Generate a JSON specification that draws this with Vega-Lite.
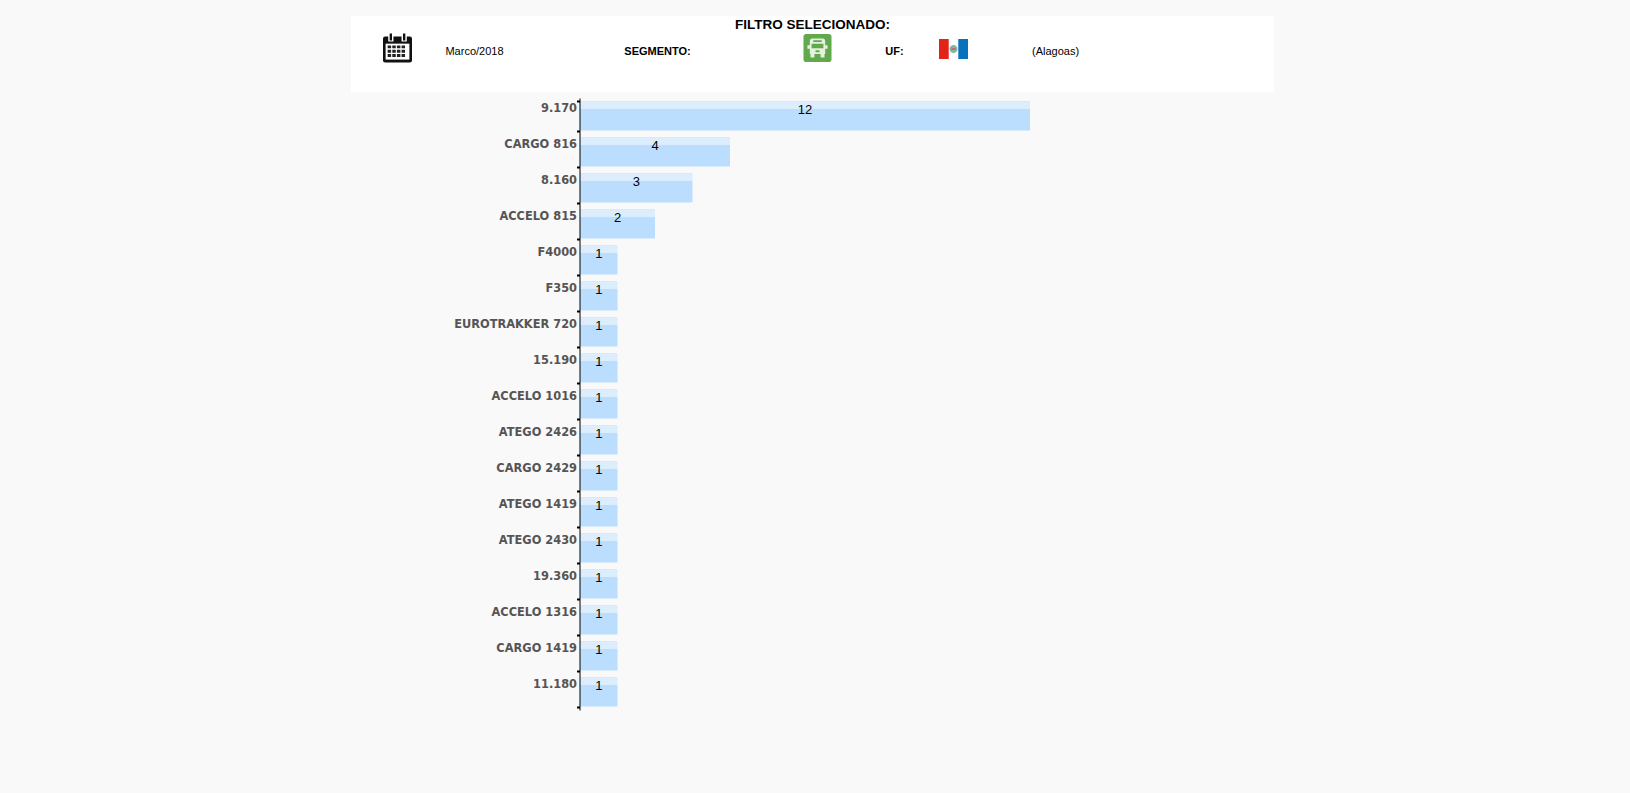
{"$schema":"https://vega.github.io/schema/vega-lite/v6.json","background":"#f9f9f9","padding":{"left":351,"right":356,"top":16,"bottom":88},"spacing":0,"config":{"view":{"stroke":null}},"datasets":{"modelos":[{"modelo":"9.170","qtd":12},{"modelo":"CARGO 816","qtd":4},{"modelo":"8.160","qtd":3},{"modelo":"ACCELO 815","qtd":2},{"modelo":"F4000","qtd":1},{"modelo":"F350","qtd":1},{"modelo":"EUROTRAKKER 720","qtd":1},{"modelo":"15.190","qtd":1},{"modelo":"ACCELO 1016","qtd":1},{"modelo":"ATEGO 2426","qtd":1},{"modelo":"CARGO 2429","qtd":1},{"modelo":"ATEGO 1419","qtd":1},{"modelo":"ATEGO 2430","qtd":1},{"modelo":"19.360","qtd":1},{"modelo":"ACCELO 1316","qtd":1},{"modelo":"CARGO 1419","qtd":1},{"modelo":"11.180","qtd":1}]},"vconcat":[{"width":923,"height":76,"view":{"fill":"#ffffff","stroke":null},"encoding":{"x":{"datum":0,"type":"quantitative","scale":{"domain":[0,923],"nice":false,"zero":false},"axis":null},"y":{"datum":36,"type":"quantitative","scale":{"domain":[76,0],"nice":false,"zero":false},"axis":null}},"layer":[{"data":{"values":[{"t":"FILTRO SELECIONADO:"}]},"mark":{"type":"text","font":"Liberation Sans","fontWeight":"bold","fontSize":13.5,"color":"#000000"},"encoding":{"text":{"field":"t"},"x":{"datum":461.5,"type":"quantitative"},"y":{"datum":9,"type":"quantitative"}}},{"data":{"values":[{"t":"Marco/2018"}]},"mark":{"type":"text","font":"Liberation Sans","fontSize":11,"color":"#000000"},"encoding":{"text":{"field":"t"},"x":{"datum":123.5,"type":"quantitative"}}},{"data":{"values":[{"t":"SEGMENTO:"}]},"mark":{"type":"text","font":"Liberation Sans","fontWeight":"bold","fontSize":11,"color":"#000000"},"encoding":{"text":{"field":"t"},"x":{"datum":306.5,"type":"quantitative"}}},{"data":{"values":[{"t":"UF:"}]},"mark":{"type":"text","font":"Liberation Sans","fontWeight":"bold","fontSize":11,"color":"#000000"},"encoding":{"text":{"field":"t"},"x":{"datum":543.5,"type":"quantitative"}}},{"data":{"values":[{"t":"(Alagoas)"}]},"mark":{"type":"text","font":"Liberation Sans","fontSize":11,"color":"#000000"},"encoding":{"text":{"field":"t"},"x":{"datum":704.5,"type":"quantitative"}}},{"data":{"values":[{"p":"cal_body"},{"p":"cal_page"},{"p":"cal_ringbg"},{"p":"cal_ring"},{"p":"cal_cells"}]},"mark":{"type":"point","filled":true,"opacity":1,"size":841},"encoding":{"x":{"datum":46.5,"type":"quantitative"},"y":{"datum":32,"type":"quantitative"},"shape":{"field":"p","type":"nominal","legend":null,"scale":{"domain":["cal_body","cal_page","cal_ringbg","cal_ring","cal_cells","bus_bg","bus_body","bus_win","flag_r","flag_b","flag_e","flag_d"],"range":["M-0.85,-0.8H0.85Q1,-0.8 1,-0.65V0.85Q1,1 0.85,1H-0.85Q-1,1 -1,0.85V-0.65Q-1,-0.8 -0.85,-0.8Z","M-0.82,-0.3H0.82V0.8H-0.82Z","M-0.64,-1H-0.28V-0.45H-0.64ZM0.28,-1H0.64V-0.45H0.28Z","M-0.54,-1H-0.38V-0.52H-0.54ZM0.38,-1H0.54V-0.52H0.38Z","M-0.68,-0.18H-0.44V0.02H-0.68ZM-0.36,-0.18H-0.12V0.02H-0.36ZM-0.04,-0.18H0.2V0.02H-0.04ZM0.28,-0.18H0.52V0.02H0.28ZM-0.68,0.12H-0.44V0.32H-0.68ZM-0.36,0.12H-0.12V0.32H-0.36ZM-0.04,0.12H0.2V0.32H-0.04ZM0.28,0.12H0.52V0.32H0.28ZM-0.68,0.42H-0.44V0.62H-0.68ZM-0.36,0.42H-0.12V0.62H-0.36ZM-0.04,0.42H0.2V0.62H-0.04ZM0.28,0.42H0.52V0.62H0.28Z","M-0.8,-1H0.8Q1,-1 1,-0.8V0.8Q1,1 0.8,1H-0.8Q-1,1 -1,0.8V-0.8Q-1,-1 -0.8,-1Z","M-0.4,-0.68H0.4Q0.55,-0.68 0.55,-0.5V-0.2H0.72V0.05H0.55V0.42H0.5V0.68H0.22V0.42H-0.22V0.68H-0.5V0.42H-0.55V0.05H-0.72V-0.2H-0.55V-0.5Q-0.55,-0.68 -0.4,-0.68Z","M-0.3,-0.55H0.3V-0.42H-0.3ZM-0.42,-0.3H0.42V0.02H-0.42ZM-0.14,0.16H0.14V0.3H-0.14Z","M-1,-0.69H-0.33V0.69H-1Z","M0.33,-0.69H1V0.69H0.33Z","M0,-0.28A0.28,0.28 0 1 1 0,0.28A0.28,0.28 0 1 1 0,-0.28Z","M-0.14,-0.07H0.14V0.07H-0.14Z"]}},"color":{"field":"p","type":"nominal","legend":null,"scale":{"domain":["cal_body","cal_page","cal_ringbg","cal_ring","cal_cells","bus_bg","bus_body","bus_win","flag_r","flag_b","flag_e","flag_d"],"range":["#111111","#ffffff","#ffffff","#111111","#222222","#62a84c","#e4f1de","#62a84c","#e2231a","#0a72bd","#7fb8a0","#c46a7a"]}}}},{"data":{"values":[{"p":"bus_bg"},{"p":"bus_body"},{"p":"bus_win"}]},"mark":{"type":"point","filled":true,"opacity":1,"size":784},"encoding":{"x":{"datum":466.5,"type":"quantitative"},"y":{"datum":32,"type":"quantitative"},"shape":{"field":"p","type":"nominal","legend":null},"color":{"field":"p","type":"nominal","legend":null}}},{"data":{"values":[{"p":"flag_r"},{"p":"flag_b"},{"p":"flag_e"},{"p":"flag_d"}]},"mark":{"type":"point","filled":true,"opacity":1,"size":841},"encoding":{"x":{"datum":602.5,"type":"quantitative"},"y":{"datum":33,"type":"quantitative"},"shape":{"field":"p","type":"nominal","legend":null},"color":{"field":"p","type":"nominal","legend":null}}}]},{"width":923,"height":612,"data":{"name":"modelos"},"encoding":{"y":{"field":"modelo","type":"nominal","sort":null,"title":null,"scale":{"paddingInner":0.19,"paddingOuter":0.095},"axis":{"orient":"left","offset":-228.5,"zindex":1,"domain":true,"domainColor":"#000000","domainWidth":1,"ticks":true,"tickColor":"#000000","tickSize":3,"tickWidth":2,"tickBand":"extent","labelPadding":0,"labelOffset":-8,"labelFont":"DejaVu Sans","labelFontWeight":"bold","labelFontSize":11.4,"labelColor":"#555555","labelLimit":300,"grid":false}}},"layer":[{"mark":{"type":"bar","color":{"gradient":"linear","x1":0,"y1":0,"x2":0,"y2":1,"stops":[{"offset":0,"color":"#bcdaf6"},{"offset":0.035,"color":"#bcdaf6"},{"offset":0.035,"color":"#dcedfe"},{"offset":0.27,"color":"#dcedfe"},{"offset":0.27,"color":"#bbddfe"},{"offset":1,"color":"#bbddfe"}]}},"encoding":{"x":{"field":"qtd","type":"quantitative","title":null,"axis":null,"scale":{"domain":[-6.1067,18.5067],"nice":false,"zero":false}}}},{"mark":{"type":"text","font":"Liberation Sans","fontSize":13,"color":"#000000","dy":-6},"encoding":{"x":{"field":"qtd","type":"quantitative","title":null,"axis":null,"scale":{"domain":[-12.2133,37.0133],"nice":false,"zero":false}},"text":{"field":"qtd","type":"quantitative"}}}],"resolve":{"scale":{"x":"independent"}}}]}
